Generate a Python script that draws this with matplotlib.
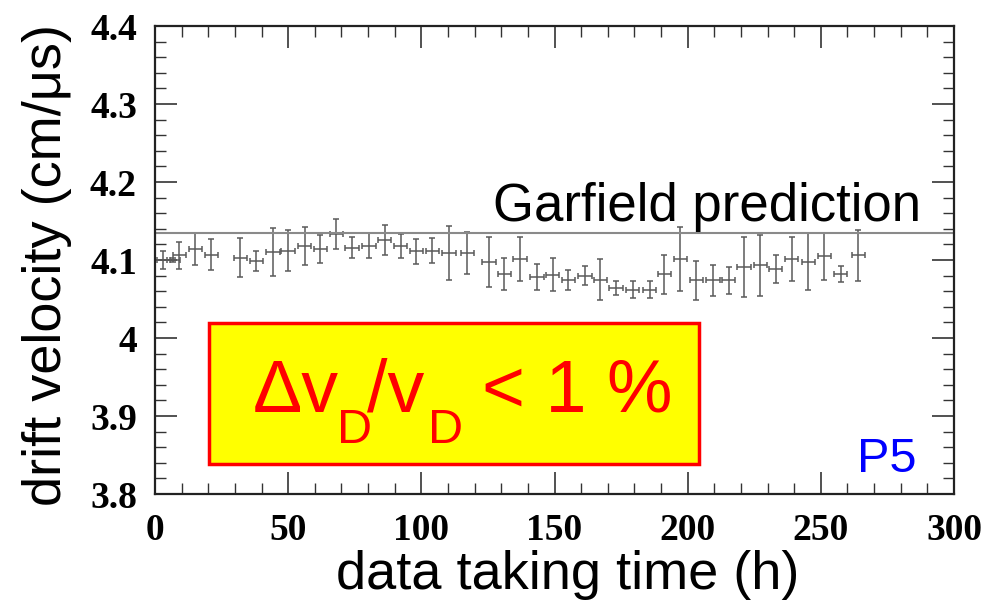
import matplotlib
matplotlib.use("Agg")
import matplotlib.pyplot as plt
from matplotlib.patches import Rectangle
from matplotlib.ticker import MultipleLocator

# data
time_h = [3.1, 6.9, 9.1, 15.1, 21.1, 32.0, 38.0, 44.3, 49.9, 56.2,
          62.1, 68.1, 74.0, 80.3, 86.2, 92.2, 98.1, 104.1, 110.4, 117.3,
          125.4, 131.1, 137.0, 143.4, 149.3, 155.2, 161.5, 167.2, 173.1, 179.4,
          185.7, 191.3, 197.2, 203.2, 209.5, 215.4, 221.2, 227.3, 233.1, 239.0,
          245.3, 251.3, 257.4, 264.1]
v_drift = [4.100, 4.100, 4.106, 4.114, 4.107, 4.103, 4.099, 4.110, 4.112, 4.118,
           4.114, 4.133, 4.116, 4.118, 4.126, 4.118, 4.111, 4.112, 4.109, 4.109,
           4.097, 4.082, 4.101, 4.078, 4.081, 4.074, 4.080, 4.075, 4.064, 4.062,
           4.062, 4.082, 4.101, 4.074, 4.074, 4.074, 4.091, 4.093, 4.089, 4.101,
           4.098, 4.105, 4.082, 4.106]
v_err = [0.011, 0.003, 0.017, 0.020, 0.020, 0.025, 0.013, 0.031, 0.026, 0.024,
         0.018, 0.019, 0.013, 0.016, 0.019, 0.015, 0.016, 0.016, 0.035, 0.027,
         0.032, 0.020, 0.028, 0.017, 0.021, 0.013, 0.012, 0.026, 0.009, 0.011,
         0.011, 0.025, 0.041, 0.025, 0.020, 0.017, 0.038, 0.039, 0.018, 0.028,
         0.036, 0.030, 0.010, 0.033]
t_err = 2.5
garfield = 4.135

fig = plt.figure(figsize=(9.93, 6.12), dpi=100)
ax = fig.add_axes([155 / 993, 1 - 494 / 612, 799 / 993, 468 / 612])

ax.errorbar(time_h, v_drift, yerr=v_err, xerr=t_err, fmt='none',
            ecolor='#5a5a5a', elinewidth=1.1, capsize=2.5, capthick=1.1)
ax.axhline(garfield, color='#8a8a8a', lw=1.5)

ax.set_xlim(0, 300)
ax.set_ylim(3.8, 4.4)
ax.xaxis.set_major_locator(MultipleLocator(50))
ax.xaxis.set_minor_locator(MultipleLocator(10))
ax.yaxis.set_major_locator(MultipleLocator(0.1))
ax.yaxis.set_minor_locator(MultipleLocator(0.02))
ax.set_yticks([3.8, 3.9, 4.0, 4.1, 4.2, 4.3, 4.4])
ax.set_yticklabels(['3.8', '3.9', '4', '4.1', '4.2', '4.3', '4.4'])
ax.tick_params(which='both', direction='in', top=True, right=True, color='#333333')
ax.tick_params(which='major', length=16, width=1.2)
ax.tick_params(which='minor', length=8, width=1.0)
ax.tick_params(axis='y', pad=13)
ax.tick_params(axis='x', pad=14)
for lab in ax.get_xticklabels() + ax.get_yticklabels():
    lab.set_fontfamily('Liberation Serif')
    lab.set_fontweight('bold')
    lab.set_fontsize(27)
for s in ax.spines.values():
    s.set_linewidth(1.6)
    s.set_color('#222222')

# labels
sans = 'Liberation Sans'
fig.text(568 / 993, 1 - 575 / 612, 'data taking time (h)', fontsize=39,
         family=sans, ha='center', va='center')
fig.text(47 / 993, 1 - 265 / 612, 'drift velocity (cm/\u03bcs)', fontsize=39,
         family=sans, ha='center', va='center', rotation=90)
ax.text(127, 4.150, 'Garfield prediction', fontsize=38, family=sans,
        ha='left', va='baseline')
ax.text(263.5, 3.828, 'P5', fontsize=35, family=sans, color='#0000ff',
        ha='left', va='baseline')

# highlighted box
box = Rectangle((20.3, 3.8385), 184.1, 0.1805, facecolor='#ffff00',
                edgecolor='#ff0000', lw=2.5, zorder=3)
ax.add_patch(box)
red = '#ff0000'
base = 1 - 411.7 / 612
sub = 1 - 443 / 612
fig.text(253 / 993, base, '\u0394v', fontsize=53, family=sans, color=red,
         va='baseline', zorder=4)
fig.text(337 / 993, sub, 'D', fontsize=35, family=sans, color=red,
         va='baseline', zorder=4)
fig.text(367 / 993, base, '/v', fontsize=53, family=sans, color=red,
         va='baseline', zorder=4)
fig.text(428 / 993, sub, 'D', fontsize=35, family=sans, color=red,
         va='baseline', zorder=4)
fig.text(482 / 993, base, '< 1 %', fontsize=53, family=sans, color=red,
         va='baseline', zorder=4)

fig.savefig('out.png', dpi=100)
